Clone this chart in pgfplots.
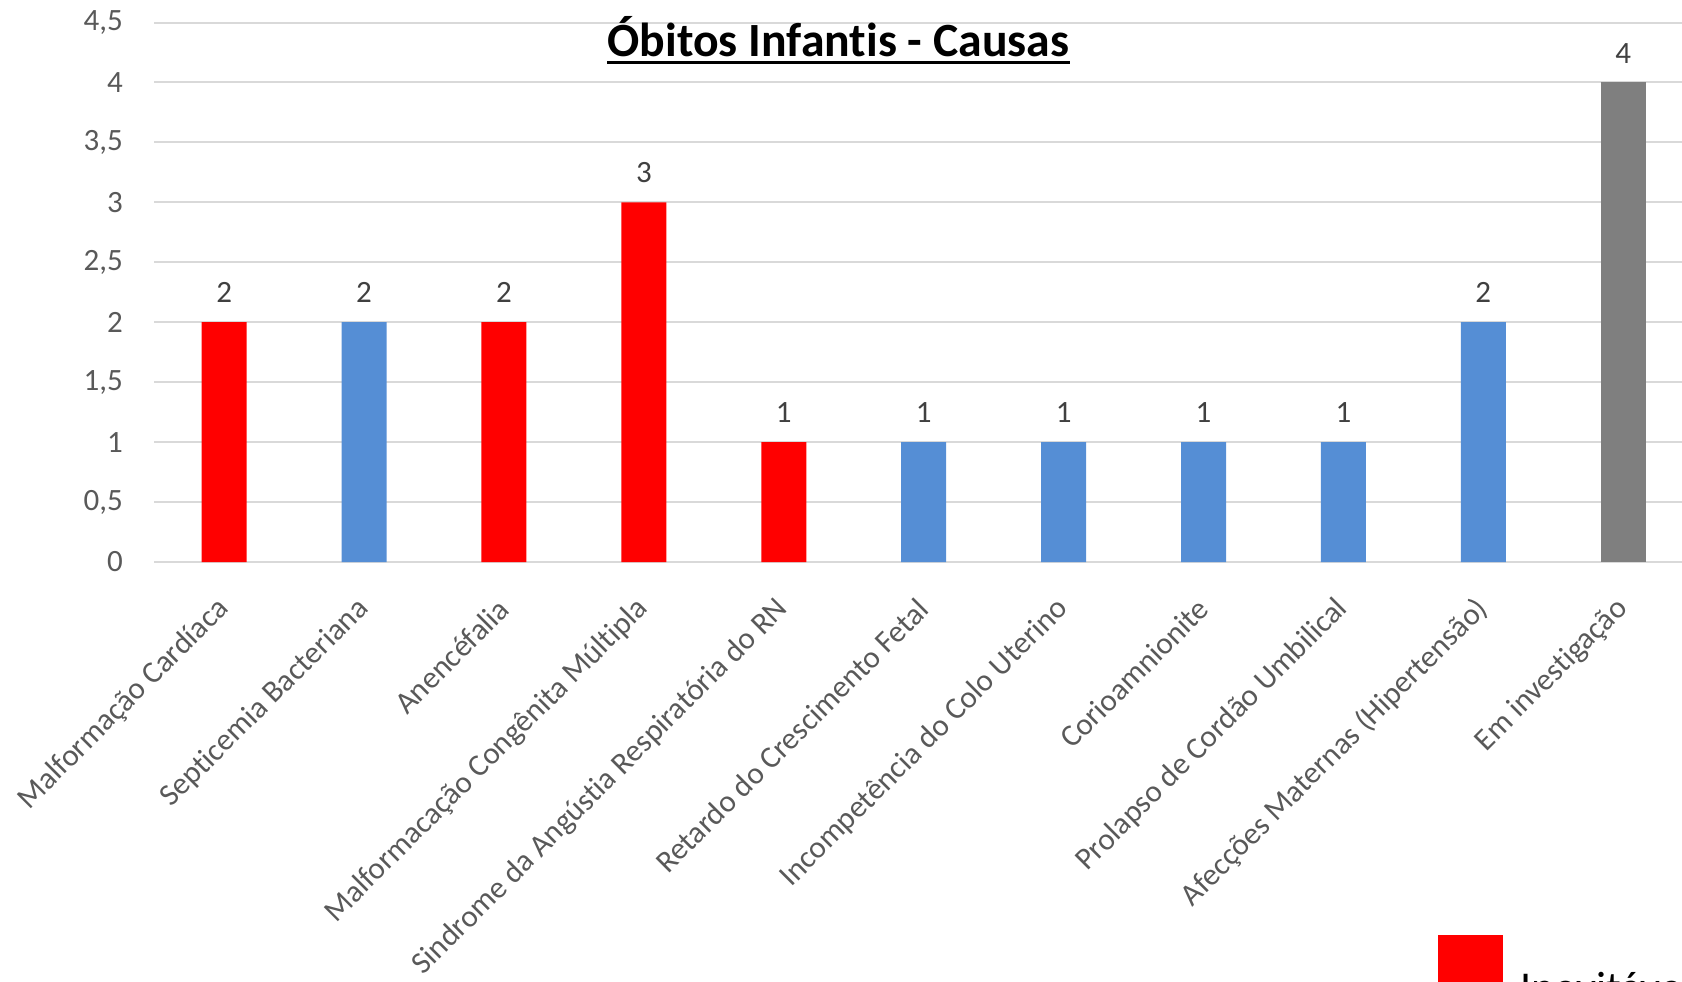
\documentclass[border=0pt]{standalone}
\usepackage{fontspec}
\setmainfont[Ligatures=NoCommon]{Carlito}
\usepackage{pgfplots}
\pgfplotsset{compat=1.18}
\pgfkeys{/pgf/number format/assume math mode=true}
\definecolor{cred}{HTML}{FF0000}
\definecolor{cblue}{HTML}{558ED5}
\definecolor{cgray}{HTML}{7F7F7F}
\definecolor{tickgray}{HTML}{595959}
\definecolor{labgray}{HTML}{404040}
\definecolor{gridgray}{HTML}{D9D9D9}
\begin{document}
\begin{tikzpicture}
\useasboundingbox (-77.1pt,-209.5pt) rectangle (763.9pt,281pt);
\clip (-77.1pt,-209.5pt) rectangle (763.9pt,281pt);
\begin{axis}[
  at={(0pt,0pt)}, anchor=south west,
  scale only axis, width=769.5pt, height=269.75pt,
  xmin=-0.5, xmax=10.5, ymin=0, ymax=4.5,
  ybar, bar width=22.5pt,
  xtick={0,1,2,3,4,5,6,7,8,9,10},
  xticklabels={Malformação Cardíaca, Septicemia Bacteriana, Anencéfalia, Malformacação Congênita Múltipla, Sindrome da Angústia Respiratória do RN, Retardo do Crescimento Fetal, Incompetência do Colo Uterino, Corioamnionite, Prolapso de Cordão Umbilical, Afecções Maternas (Hipertensão), Em investigação},
  ytick={0,0.5,1,1.5,2,2.5,3,3.5,4,4.5},
  yticklabel style={/pgf/number format/use comma, /pgf/number format/fixed, font=\fontsize{15.5}{18}\selectfont, text=tickgray, inner sep=0pt, anchor=east},
  yticklabel shift=15.5pt,
  xticklabel style={rotate=45, anchor=east, inner sep=0pt, font=\fontsize{15.5}{18}\selectfont, text=tickgray},
  xticklabel shift=21pt,
  major tick length=0pt,
  tick style={draw=none},
  axis line style={draw=none},
  ymajorgrids, grid style={gridgray, line width=1pt},
  nodes near coords,
  nodes near coords style={font=\fontsize{15.5}{18}\selectfont, text=labgray, inner sep=0pt, anchor=south, yshift=9.5pt},
  legend style={at={(0.8342,-0.6914)}, anchor=north west, draw=none, fill=none, inner sep=0pt,
    font=\fontsize{22}{26}\selectfont, nodes={inner sep=0pt}, column sep=8.5pt},
  legend cell align=left,
]
\addplot[fill=cred, draw=none, bar shift=0pt, legend image code/.code={\fill[cred] (0pt,-6pt) rectangle (32.5pt,26.5pt);}]
  coordinates {(0,2) (2,2) (3,3) (4,1)};
\addlegendentry{Inevitáveis}
\addplot[fill=cblue, draw=none, bar shift=0pt]
  coordinates {(1,2) (5,1) (6,1) (7,1) (8,1) (9,2)};
\addplot[fill=cgray, draw=none, bar shift=0pt]
  coordinates {(10,4)};
\end{axis}
\node (t) [anchor=base, inner sep=0pt] at (342.1pt,252.65pt) {\bfseries\fontsize{23.85}{28}\selectfont Óbitos Infantis - Causas};
\draw[line width=1.5pt] ([yshift=-2.75pt]t.base west) -- ([yshift=-2.75pt]t.base east);
\end{tikzpicture}
\end{document}
